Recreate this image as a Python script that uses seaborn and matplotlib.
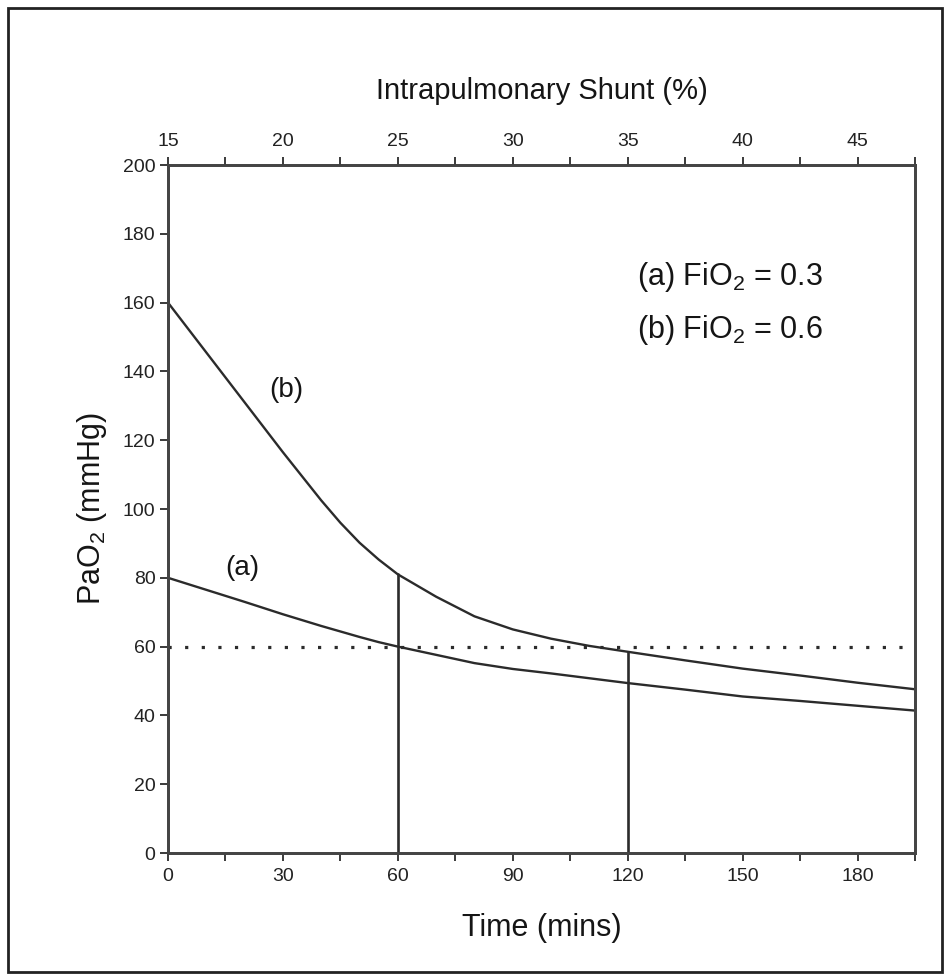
import matplotlib
matplotlib.use("Agg")
import matplotlib.pyplot as plt
import seaborn as sns
import pandas as pd
from matplotlib.patches import Rectangle
from matplotlib.ticker import MultipleLocator, FixedLocator

# ---- data ----
time_mins = [0, 10, 20, 30, 40, 45, 50, 55, 60, 70, 80, 90, 100, 110, 120, 135, 150, 165, 180, 195]
pao2_a = [80, 76.5, 73, 69.4, 66, 64.4, 62.8, 61.3, 60, 57.6, 55.2, 53.5, 52.2, 50.8, 49.4, 47.5, 45.5, 44.2, 42.8, 41.4]
pao2_b = [160, 145.5, 131, 116.5, 102.5, 96, 90.2, 85.3, 81, 74.5, 68.8, 65, 62.3, 60.2, 58.5, 56, 53.6, 51.6, 49.5, 47.6]
threshold = 60
marker_times = [60, 120]
marker_tops = [81, 58.5]
x_ticks = [0, 30, 60, 90, 120, 150, 180]
y_ticks = [0, 20, 40, 60, 80, 100, 120, 140, 160, 180, 200]
shunt_ticks = [15, 20, 25, 30, 35, 40, 45]

sns.set_style("ticks")
plt.rcParams['font.family'] = ['Liberation Sans', 'DejaVu Sans']
plt.rcParams['mathtext.fontset'] = 'custom'
plt.rcParams['mathtext.rm'] = 'Liberation Sans'
plt.rcParams['mathtext.it'] = 'Liberation Sans:italic'

dark = '#2b2b2b'
txt = '#151515'
fig = plt.figure(figsize=(9.5, 9.8), dpi=100)
ax = fig.add_axes([168/950, 1-853/980, (915-168)/950, (853-165)/980])

df = pd.DataFrame({
    "Time": time_mins * 2,
    "PaO2": pao2_a + pao2_b,
    "curve": ["a"] * len(time_mins) + ["b"] * len(time_mins),
})
sns.lineplot(data=df, x="Time", y="PaO2", units="curve", estimator=None,
             color=dark, linewidth=1.7, ax=ax, legend=False)

ax.axhline(threshold, color=dark, linestyle=(0, (1, 4.2)), linewidth=2.3)
for t, top in zip(marker_times, marker_tops):
    ax.plot([t, t], [0, top], color=dark, linewidth=1.9)

ax.set_xlim(0, 195)
ax.set_ylim(0, 200)
ax.xaxis.set_major_locator(FixedLocator(x_ticks))
ax.xaxis.set_minor_locator(MultipleLocator(15))
ax.yaxis.set_major_locator(FixedLocator(y_ticks))
ax.tick_params(axis='both', which='both', direction='out', length=6, width=1.3,
               colors=dark, labelsize=14, labelcolor='#222222')
ax.tick_params(axis='x', pad=5)
ax.tick_params(axis='y', pad=3)
for s in ax.spines.values():
    s.set_visible(True)
    s.set_linewidth(2)
    s.set_color('#444444')

ax.set_xlabel("Time (mins)", fontsize=22, labelpad=20, color=txt)
ax.set_ylabel("PaO$_2$ (mmHg)", fontsize=22, labelpad=10, color=txt)

# top axis: intrapulmonary shunt
ax2 = ax.twiny()
ax2.set_xlim(15 + 0 / 6, 15 + 195 / 6)
ax2.xaxis.set_major_locator(FixedLocator(shunt_ticks))
ax2.xaxis.set_minor_locator(MultipleLocator(2.5))
ax2.tick_params(axis='x', which='both', direction='out', length=6, width=1.3,
                colors=dark, labelsize=14, labelcolor='#222222', pad=5)
for s in ax2.spines.values():
    s.set_linewidth(2)
    s.set_color('#444444')
ax2.set_xlabel("Intrapulmonary Shunt (%)", fontsize=21, labelpad=24, color=txt)

# annotations
ax.text(31, 134.5, "(b)", fontsize=20, ha='center', va='center', color=txt)
ax.text(19.5, 82.8, "(a)", fontsize=20, ha='center', va='center', color=txt)
ax.text(122.5, 167.5, "(a) FiO$_2$ = 0.3", fontsize=22, ha='left', va='center', color=txt)
ax.text(122.5, 152.0, "(b) FiO$_2$ = 0.6", fontsize=22, ha='left', va='center', color=txt)

# outer frame
fig.patches.append(Rectangle((8/950, 1-972/980), (942-8)/950, (972-8)/980,
                             transform=fig.transFigure, fill=False,
                             edgecolor='#222222', linewidth=2))

fig.savefig("out.png", dpi=100)
